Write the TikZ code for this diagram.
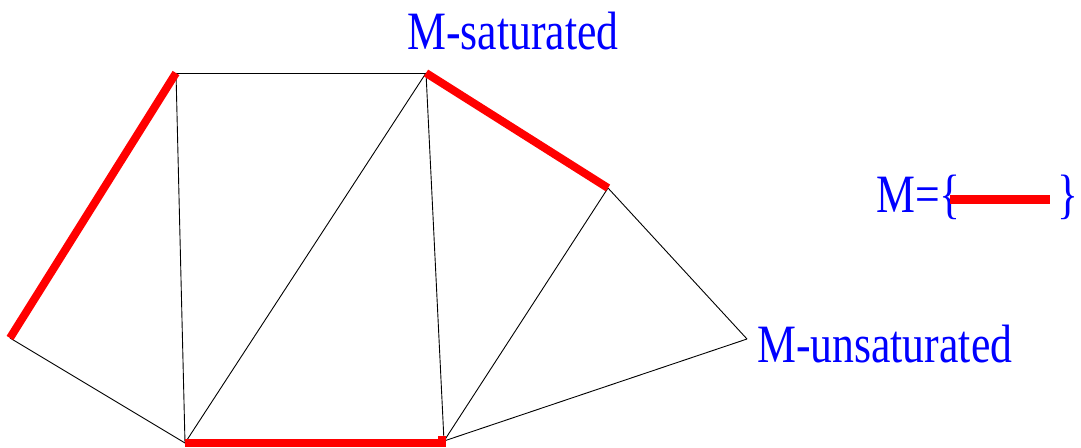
\documentclass[tikz,border=0pt]{standalone}
\usepackage{fontspec}
\usepackage{graphicx}
\setmainfont{Liberation Serif}
\tikzset{
  thin edge/.style={black, line width=0.9pt},
  match edge/.style={red, line width=8pt},
  lbl/.style={blue, inner sep=0pt, font=\fontsize{54}{60}\selectfont},
}
\newcommand{\narrow}[1]{\scalebox{0.81}[1]{#1}}
\begin{document}
\begin{tikzpicture}[x=1pt,y=-1pt]
\useasboundingbox (0,0) rectangle (1081,447);
\coordinate (A) at (10,338);
\coordinate (B) at (176,73);
\coordinate (C) at (426,73);
\coordinate (D) at (608,188);
\coordinate (E) at (747,339);
\coordinate (F) at (444,441);
\coordinate (G) at (185,443);
\coordinate (Fr) at (442,443);
\coordinate (Ft) at (442,436);
% thin edges
\draw[thin edge] (B) -- (C);
\draw[thin edge] (D) -- (E);
\draw[thin edge] (E) -- (F);
\draw[thin edge] (G) -- (A);
\draw[thin edge] (B) -- (G);
\draw[thin edge] (G) -- (C);
\draw[thin edge] (C) -- (F);
\draw[thin edge] (F) -- (D);
% matching edges
\draw[match edge] (A) -- (B);
\draw[match edge] (C) -- (D);
\draw[match edge, miter limit=10] (G) -- (Fr) -- (Ft);
% labels
\node[lbl, anchor=base west] (sat) at (407,49) {\narrow{M-saturated}};
\node[lbl, anchor=base west] (unsat) at (757,362) {\narrow{M-unsaturated}};
\node[lbl, anchor=base west] (meq) at (876,212) {\narrow{M=\{}};
\node[lbl, anchor=base east] (rbrace) at (1079,212) {\narrow{\}}};
\coordinate (m1) at (950,199.5);
\coordinate (m2) at (1050,199.5);
\draw[red, line width=9pt] (m1) -- (m2);
\end{tikzpicture}
\end{document}
